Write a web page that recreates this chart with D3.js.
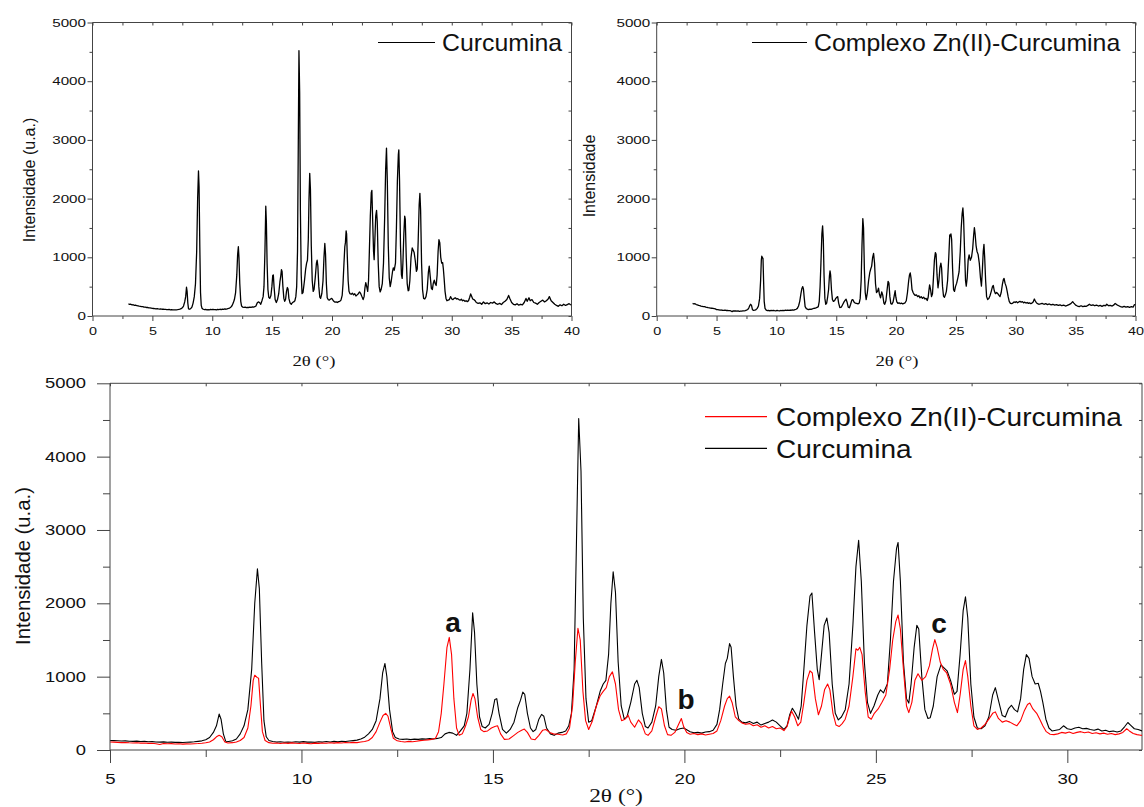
<!DOCTYPE html>
<html>
<head>
<meta charset="utf-8">
<script src="https://cdn.jsdelivr.net/npm/d3@7"></script>
<style>
body { margin: 0; background: #fff; }
svg { display: block; }
</style>
</head>
<body>
<div id="root"></div>
<script>
// 2theta / intensity pairs
const curcumina = [
[3.0,205],[3.1,198],[3.2,200],[3.3,190],[3.4,192],[3.5,182],[3.6,185],[3.7,175],[3.8,172],[3.9,168],
[4.0,165],[4.1,160],[4.2,158],[4.3,150],[4.4,152],[4.5,145],[4.6,146],[4.7,140],[4.8,138],[4.9,135],
[5.0,130],[5.1,128],[5.2,126],[5.3,122],[5.4,124],[5.5,120],[5.6,118],[5.7,121],[5.8,115],[5.9,117],
[6.0,112],[6.1,114],[6.2,110],[6.3,108],[6.4,111],[6.5,106],[6.6,108],[6.7,104],[6.8,106],[6.9,103],
[7.0,105],[7.1,108],[7.2,112],[7.3,118],[7.4,125],[7.5,140],[7.6,170],[7.7,240],[7.78,330],[7.85,490],
[7.9,420],[7.96,220],[8.02,120],[8.1,115],[8.2,125],[8.3,150],[8.4,220],[8.5,330],[8.6,550],[8.7,1100],
[8.78,2000],[8.85,2470],[8.9,2200],[8.96,1200],[9.02,400],[9.08,180],[9.15,130],[9.25,115],[9.35,108],[9.45,112],
[9.55,105],[9.65,110],[9.75,106],[9.85,112],[9.95,108],[10.05,114],[10.15,107],[10.25,110],[10.35,104],[10.45,112],
[10.55,108],[10.65,115],[10.75,110],[10.85,118],[10.95,112],[11.05,120],[11.15,115],[11.25,122],[11.35,128],[11.45,135],
[11.55,150],[11.65,175],[11.75,220],[11.85,280],[11.95,400],[12.05,700],[12.12,1050],[12.18,1180],[12.23,1000],[12.3,550],
[12.38,250],[12.45,170],[12.55,150],[12.65,145],[12.75,150],[12.85,142],[12.95,148],[13.05,145],[13.15,152],[13.25,148],
[13.35,155],[13.45,150],[13.55,158],[13.65,170],[13.75,220],[13.85,240],[13.95,230],[14.05,200],[14.15,260],[14.25,330],
[14.32,500],[14.4,1100],[14.47,1870],[14.52,1600],[14.58,900],[14.65,450],[14.72,320],[14.8,300],[14.9,350],[14.98,500],
[15.05,690],[15.1,700],[15.16,500],[15.25,280],[15.35,230],[15.45,280],[15.55,380],[15.65,580],[15.72,680],[15.78,790],
[15.83,760],[15.9,500],[15.98,300],[16.05,250],[16.12,280],[16.2,420],[16.27,485],[16.33,460],[16.4,300],[16.5,220],
[16.6,200],[16.7,230],[16.8,240],[16.9,260],[16.98,330],[17.05,500],[17.12,1100],[17.18,2800],[17.24,4520],[17.3,3800],
[17.36,1800],[17.43,700],[17.5,380],[17.58,400],[17.7,600],[17.8,800],[17.88,900],[17.95,950],[18.02,1300],[18.08,2000],
[18.14,2430],[18.2,2150],[18.27,1200],[18.35,600],[18.43,420],[18.5,450],[18.6,650],[18.7,900],[18.76,950],[18.82,850],
[18.9,500],[18.98,320],[19.05,300],[19.15,380],[19.25,600],[19.33,1000],[19.4,1235],[19.46,1050],[19.53,550],[19.6,310],
[19.68,280],[19.78,270],[19.88,290],[19.98,300],[20.05,280],[20.15,250],[20.25,235],[20.35,240],[20.45,230],[20.55,245],
[20.65,250],[20.75,270],[20.85,350],[20.92,550],[21.0,900],[21.07,1180],[21.12,1250],[21.18,1450],[21.22,1400],[21.28,1000],
[21.35,600],[21.42,420],[21.5,380],[21.6,370],[21.7,390],[21.8,360],[21.9,380],[22.0,340],[22.1,360],[22.2,380],
[22.3,410],[22.4,380],[22.5,330],[22.6,280],[22.68,330],[22.75,480],[22.82,570],[22.9,500],[22.98,420],[23.05,600],
[23.12,1100],[23.2,1700],[23.28,2100],[23.33,2140],[23.4,1600],[23.47,1100],[23.52,960],[23.58,1300],[23.65,1700],[23.72,1800],
[23.78,1600],[23.86,900],[23.94,500],[24.02,410],[24.1,450],[24.2,550],[24.3,900],[24.4,1700],[24.48,2500],[24.55,2860],
[24.62,2300],[24.7,1200],[24.78,650],[24.86,500],[24.95,600],[25.05,750],[25.12,820],[25.2,780],[25.3,900],[25.38,1500],
[25.46,2300],[25.54,2750],[25.58,2830],[25.64,2300],[25.72,1200],[25.8,700],[25.86,640],[25.92,900],[26.0,1400],[26.07,1700],
[26.12,1650],[26.2,1000],[26.28,550],[26.36,430],[26.42,440],[26.5,600],[26.6,1000],[26.7,1160],[26.78,1120],[26.86,1080],
[26.95,950],[27.05,760],[27.12,800],[27.2,1300],[27.28,1900],[27.34,2090],[27.4,1800],[27.48,900],[27.56,450],[27.65,300],
[27.75,290],[27.85,330],[27.95,450],[28.05,750],[28.12,850],[28.2,680],[28.3,470],[28.38,450],[28.46,560],[28.54,610],
[28.62,550],[28.7,520],[28.78,700],[28.86,1100],[28.93,1300],[29.0,1250],[29.08,1000],[29.16,900],[29.24,910],[29.3,800],
[29.36,650],[29.44,420],[29.52,300],[29.6,260],[29.7,270],[29.8,280],[29.9,330],[30.0,290],[30.1,280],[30.2,300],
[30.3,310],[30.4,290],[30.5,295],[30.6,280],[30.7,270],[30.8,285],[30.9,260],[31.0,270],[31.1,250],[31.2,260],
[31.3,245],[31.4,260],[31.5,320],[31.58,375],[31.65,340],[31.75,290],[31.85,280],[31.95,260],[32.05,230],[32.2,215],
[32.35,225],[32.5,200],[32.65,240],[32.8,210],[32.95,225],[33.1,205],[33.25,230],[33.4,220],[33.55,240],[33.7,210],
[33.85,200],[34.0,215],[34.15,195],[34.3,230],[34.45,250],[34.6,280],[34.75,350],[34.85,300],[35.0,230],[35.15,200],
[35.3,190],[35.45,210],[35.6,185],[35.75,200],[35.9,190],[36.05,230],[36.2,300],[36.3,250],[36.45,310],[36.55,260],
[36.7,280],[36.85,230],[37.0,220],[37.15,200],[37.3,230],[37.45,250],[37.6,270],[37.75,240],[37.9,260],[38.05,290],
[38.15,330],[38.3,260],[38.45,230],[38.6,200],[38.75,180],[38.9,165],[39.05,190],[39.2,175],[39.35,200],[39.5,180],
[39.65,195],[39.8,210],[39.9,195],[40.0,190]
];

const complexo = [
[3.0,215],[3.1,205],[3.2,210],[3.3,195],[3.4,190],[3.5,180],[3.6,178],[3.7,170],[3.8,165],[3.9,160],
[4.0,158],[4.1,150],[4.2,148],[4.3,142],[4.4,140],[4.5,135],[4.6,132],[4.7,128],[4.8,124],[4.9,120],
[5.0,110],[5.1,108],[5.2,104],[5.3,100],[5.4,102],[5.5,98],[5.6,96],[5.7,99],[5.8,94],[5.9,95],
[6.0,90],[6.1,92],[6.2,86],[6.3,75],[6.4,88],[6.5,85],[6.6,87],[6.7,82],[6.8,86],[6.9,80],
[7.0,84],[7.1,82],[7.2,86],[7.3,88],[7.4,92],[7.5,98],[7.6,110],[7.7,140],[7.78,180],[7.85,200],
[7.92,180],[8.0,110],[8.08,95],[8.2,100],[8.3,110],[8.4,130],[8.5,170],[8.6,300],[8.68,600],[8.74,950],
[8.78,1020],[8.84,990],[8.88,980],[8.93,600],[8.98,250],[9.05,130],[9.15,100],[9.25,92],[9.35,96],[9.45,88],
[9.55,95],[9.65,90],[9.75,97],[9.85,92],[9.95,88],[10.05,95],[10.15,90],[10.25,86],[10.35,94],[10.45,90],
[10.55,96],[10.65,92],[10.75,98],[10.85,94],[10.95,100],[11.05,96],[11.15,102],[11.25,98],[11.35,104],[11.45,100],
[11.55,108],[11.65,115],[11.75,130],[11.85,170],[11.95,250],[12.05,380],[12.13,470],[12.2,500],[12.26,460],[12.33,300],
[12.4,160],[12.5,125],[12.6,115],[12.7,110],[12.8,118],[12.9,112],[13.0,120],[13.1,128],[13.2,132],[13.3,138],
[13.4,145],[13.5,160],[13.58,250],[13.65,500],[13.72,900],[13.8,1400],[13.86,1535],[13.92,1300],[13.98,700],[14.05,300],
[14.12,200],[14.2,220],[14.28,320],[14.36,450],[14.43,680],[14.48,770],[14.53,700],[14.6,450],[14.68,280],[14.76,250],
[14.86,260],[14.96,300],[15.05,320],[15.12,330],[15.2,220],[15.3,145],[15.42,150],[15.55,200],[15.65,240],[15.75,270],
[15.82,285],[15.9,240],[16.0,150],[16.1,140],[16.2,200],[16.3,270],[16.38,280],[16.48,240],[16.58,220],[16.7,215],
[16.82,205],[16.92,220],[17.0,300],[17.08,600],[17.15,1200],[17.22,1660],[17.28,1500],[17.35,800],[17.42,400],[17.5,280],
[17.6,400],[17.7,600],[17.8,740],[17.88,800],[17.96,850],[18.04,1000],[18.12,1065],[18.2,900],[18.28,550],[18.36,400],
[18.45,420],[18.53,475],[18.6,380],[18.7,310],[18.8,410],[18.88,360],[18.98,220],[19.05,200],[19.15,260],[19.25,450],
[19.33,590],[19.4,560],[19.48,330],[19.56,210],[19.65,200],[19.75,240],[19.85,350],[19.92,430],[19.98,320],[20.06,240],
[20.15,215],[20.25,225],[20.35,210],[20.45,220],[20.55,205],[20.65,215],[20.75,225],[20.85,260],[20.95,400],[21.05,600],
[21.12,700],[21.18,735],[21.25,640],[21.33,450],[21.42,400],[21.5,370],[21.6,350],[21.7,360],[21.8,330],[21.9,345],
[22.0,310],[22.1,330],[22.2,300],[22.3,320],[22.4,290],[22.5,300],[22.6,265],[22.68,320],[22.75,450],[22.8,530],
[22.88,450],[22.96,330],[23.04,380],[23.12,650],[23.2,950],[23.28,1080],[23.34,1050],[23.42,700],[23.5,480],[23.58,600],
[23.66,820],[23.74,900],[23.8,820],[23.88,500],[23.96,340],[24.04,320],[24.12,360],[24.2,420],[24.3,600],[24.4,1000],
[24.48,1380],[24.53,1360],[24.58,1400],[24.64,1300],[24.72,800],[24.8,450],[24.88,420],[24.96,500],[25.06,560],[25.16,650],
[25.26,750],[25.36,1100],[25.44,1500],[25.52,1750],[25.58,1840],[25.64,1650],[25.72,1100],[25.8,600],[25.86,510],[25.94,650],
[26.02,950],[26.1,1040],[26.2,950],[26.3,1000],[26.4,1150],[26.48,1380],[26.54,1505],[26.6,1400],[26.68,1200],[26.76,1100],
[26.85,1050],[26.95,900],[27.05,650],[27.13,510],[27.2,750],[27.28,1100],[27.34,1220],[27.4,1000],[27.48,600],[27.56,330],
[27.65,280],[27.75,300],[27.85,350],[27.95,420],[28.05,500],[28.12,520],[28.2,430],[28.3,380],[28.4,400],[28.5,380],
[28.6,350],[28.68,330],[28.78,400],[28.88,540],[28.96,620],[29.02,640],[29.1,560],[29.2,500],[29.28,420],[29.36,330],
[29.45,250],[29.55,215],[29.65,210],[29.75,220],[29.85,240],[29.95,230],[30.05,245],[30.15,225],[30.25,240],[30.35,250],
[30.45,235],[30.55,245],[30.65,225],[30.75,235],[30.85,220],[30.95,230],[31.05,215],[31.15,225],[31.25,210],[31.35,220],
[31.45,240],[31.55,290],[31.62,260],[31.72,225],[31.82,210],[31.92,200],[32.05,205],[32.2,215],[32.35,200],[32.5,210],
[32.65,195],[32.8,205],[32.95,190],[33.1,200],[33.25,185],[33.4,195],[33.55,180],[33.7,190],[33.85,175],[34.0,185],
[34.15,170],[34.3,180],[34.45,195],[34.6,210],[34.75,245],[34.85,220],[35.0,185],[35.15,170],[35.3,160],[35.45,175],
[35.6,160],[35.75,170],[35.9,165],[36.05,185],[36.15,200],[36.3,180],[36.45,190],[36.6,175],[36.75,185],[36.9,170],
[37.05,180],[37.2,165],[37.35,180],[37.5,175],[37.6,200],[37.75,175],[37.9,180],[38.05,170],[38.2,190],[38.3,215],
[38.45,190],[38.6,175],[38.75,160],[38.9,150],[39.05,165],[39.2,150],[39.35,160],[39.5,148],[39.65,158],[39.8,150],
[39.9,190],[40.0,200]
];

const yTicks = [0, 1000, 2000, 3000, 4000, 5000];
const yMinor = [500, 1500, 2500, 3500, 4500];
const xTicksTop = [0, 5, 10, 15, 20, 25, 30, 35, 40];
const xMinorTop = [2.5, 7.5, 12.5, 17.5, 22.5, 27.5, 32.5, 37.5];
const xTicksBottom = [5, 10, 15, 20, 25, 30];
const xMinorBottom = [7.5, 12.5, 17.5, 22.5, 27.5];

const width = 1144;
const height = 807;
const sans = "'Liberation Sans', Arial, sans-serif";
const serif = "'Liberation Serif', 'Times New Roman', serif";
const axisColor = "#444";

const svg = d3.select("#root")
  .append("svg")
  .attr("width", width)
  .attr("height", height)
  .style("background", "#fff");

// text that is a bit wider than the font normally is
function wideText(g, x, y, txt, size, sx, anchor, opts) {
  opts = opts || {};
  return g.append("text")
    .attr("transform", "translate(" + x + "," + y + ") scale(" + sx + ",1)")
    .attr("text-anchor", anchor || "start")
    .attr("font-family", opts.family || sans)
    .attr("font-size", size)
    .attr("font-weight", opts.weight || "normal")
    .attr("fill", "#111")
    .text(txt);
}

function styleAxis(g) {
  g.selectAll("path, line").attr("stroke", axisColor).attr("stroke-width", 1);
}

// draws one framed panel; returns scales
function drawPanel(cfg) {
  const x = d3.scaleLinear().domain(cfg.xDomain).range([cfg.left, cfg.right]);
  const y = d3.scaleLinear().domain([0, 5000]).range([cfg.bottom, cfg.top]);
  const g = svg.append("g");

  // frame top/right with small inward ticks
  const top = g.append("g").attr("transform", "translate(0," + cfg.top + ")")
    .call(d3.axisTop(x).tickValues(cfg.xMajor.concat(cfg.xMinor)).tickSize(-cfg.innerTick).tickFormat(""));
  top.select(".domain").attr("d", "M" + cfg.left + ",0H" + cfg.right);
  styleAxis(top);
  const right = g.append("g").attr("transform", "translate(" + cfg.right + ",0)")
    .call(d3.axisRight(y).tickValues(yTicks.concat(yMinor)).tickSize(-cfg.innerTick).tickFormat(""));
  right.select(".domain").attr("d", "M0," + cfg.top + "V" + cfg.bottom);
  styleAxis(right);

  // clip for traces
  const clipId = "clip" + cfg.id;
  svg.append("clipPath").attr("id", clipId).append("rect")
    .attr("x", cfg.left).attr("y", cfg.top - 2)
    .attr("width", cfg.right - cfg.left).attr("height", cfg.bottom - cfg.top + 2);

  const line = d3.line().x(d => x(d[0])).y(d => y(d[1]));
  cfg.series.forEach(s => {
    g.append("path")
      .datum(s.data)
      .attr("clip-path", "url(#" + clipId + ")")
      .attr("fill", "none")
      .attr("stroke", s.color)
      .attr("stroke-width", s.width)
      .attr("stroke-linejoin", "round")
      .attr("d", line);
  });

  // left axis
  const yAx = g.append("g").attr("transform", "translate(" + cfg.left + ",0)")
    .call(d3.axisLeft(y).tickValues(yTicks).tickSize(cfg.majorTick).tickSizeOuter(0).tickFormat(d3.format("d")));
  yAx.select(".domain").attr("d", "M0," + cfg.top + "V" + cfg.bottom);
  yAx.selectAll("text")
    .attr("font-family", sans).attr("font-size", cfg.tickFont).attr("fill", "#111")
    .attr("x", -cfg.yLabelGap / cfg.tickSx)
    .attr("transform", "scale(" + cfg.tickSx + ",1)");
  const yMin = g.append("g").attr("transform", "translate(" + cfg.left + ",0)")
    .call(d3.axisLeft(y).tickValues(yMinor).tickSize(cfg.minorTick).tickFormat(""));
  yMin.select(".domain").remove();
  styleAxis(yAx); styleAxis(yMin);

  // bottom axis
  const xAx = g.append("g").attr("transform", "translate(0," + cfg.bottom + ")")
    .call(d3.axisBottom(x).tickValues(cfg.xMajor).tickSize(cfg.majorTick).tickSizeOuter(0).tickFormat(d3.format("d")));
  xAx.select(".domain").attr("d", "M" + cfg.left + ",0H" + cfg.right);
  xAx.selectAll("text")
    .attr("font-family", sans).attr("font-size", cfg.xTickFont).attr("fill", "#111")
    .attr("y", cfg.xLabelGap)
    .attr("x", 0)
    .attr("transform", "scale(" + cfg.xTickSx + ",1)");
  const xMin = g.append("g").attr("transform", "translate(0," + cfg.bottom + ")")
    .call(d3.axisBottom(x).tickValues(cfg.xMinor).tickSize(cfg.minorTick).tickFormat(""));
  xMin.select(".domain").remove();
  styleAxis(xAx); styleAxis(xMin);

  return { g: g, x: x, y: y };
}

// top left: curcumina
const p1 = drawPanel({
  id: 1, left: 92.5, right: 571.5, top: 22.5, bottom: 316,
  xDomain: [0, 40], xMajor: xTicksTop, xMinor: xMinorTop,
  majorTick: 5, minorTick: 3, innerTick: 3,
  tickFont: 11.5, tickSx: 1.32, yLabelGap: 6.5,
  xTickFont: 11.5, xTickSx: 1.25, xLabelGap: 10.5,
  series: [{ data: curcumina, color: "#000", width: 1.3 }]
});
wideText(p1.g, 0, 0, "Intensidade (u.a.)", 16, 1, "middle")
  .attr("transform", "translate(35,180) rotate(-90)");
wideText(p1.g, 314, 366, "2θ (°)", 15, 1.25, "middle", { family: serif });
p1.g.append("line").attr("x1", 378).attr("x2", 435).attr("y1", 42.5).attr("y2", 42.5)
  .attr("stroke", "#000").attr("stroke-width", 1.1);
wideText(p1.g, 442, 51, "Curcumina", 23, 1.08, "start");

// top right: complex
const p2 = drawPanel({
  id: 2, left: 656.7, right: 1135.5, top: 22.5, bottom: 316,
  xDomain: [0, 40], xMajor: xTicksTop, xMinor: xMinorTop,
  majorTick: 5, minorTick: 3, innerTick: 3,
  tickFont: 11.5, tickSx: 1.32, yLabelGap: 6.5,
  xTickFont: 11.5, xTickSx: 1.25, xLabelGap: 10.5,
  series: [{ data: complexo, color: "#000", width: 1.3 }]
});
wideText(p2.g, 0, 0, "Intensidade", 16, 1, "middle")
  .attr("transform", "translate(595,176) rotate(-90)");
wideText(p2.g, 897, 366, "2θ (°)", 15, 1.25, "middle", { family: serif });
p2.g.append("line").attr("x1", 752).attr("x2", 807).attr("y1", 42.5).attr("y2", 42.5)
  .attr("stroke", "#000").attr("stroke-width", 1.1);
wideText(p2.g, 814, 51, "Complexo Zn(II)-Curcumina", 23, 1.08, "start");

// bottom: overlay
const p3 = drawPanel({
  id: 3, left: 110, right: 1142, top: 383.3, bottom: 750,
  xDomain: [5, 31.95], xMajor: xTicksBottom, xMinor: xMinorBottom,
  majorTick: 13, minorTick: 7, innerTick: 3,
  tickFont: 14.5, tickSx: 1.27, yLabelGap: 24,
  xTickFont: 15.5, xTickSx: 1.2, xLabelGap: 23,
  series: [
    { data: curcumina.filter(d => d[0] >= 5), color: "#000", width: 1.1 },
    { data: complexo.filter(d => d[0] >= 5), color: "#ff0000", width: 1.1 }
  ]
});
wideText(p3.g, 0, 0, "Intensidade (u.a.)", 20.3, 1, "middle")
  .attr("transform", "translate(30,566) rotate(-90)");
wideText(p3.g, 616, 802, "2θ (°)", 18, 1.3, "middle", { family: serif });

p3.g.append("line").attr("x1", 705).attr("x2", 767).attr("y1", 416.7).attr("y2", 416.7)
  .attr("stroke", "#ff0000").attr("stroke-width", 1.2);
wideText(p3.g, 776, 426, "Complexo Zn(II)-Curcumina", 25.5, 1.1, "start");
p3.g.append("line").attr("x1", 705).attr("x2", 767).attr("y1", 448.3).attr("y2", 448.3)
  .attr("stroke", "#000").attr("stroke-width", 1.2);
wideText(p3.g, 776, 458, "Curcumina", 25.5, 1.1, "start");

// peak markers
wideText(p3.g, 453, 632, "a", 28, 1, "middle", { weight: "bold" });
wideText(p3.g, 686, 709, "b", 28, 1, "middle", { weight: "bold" });
wideText(p3.g, 939, 633, "c", 28, 1, "middle", { weight: "bold" });
</script>
</body>
</html>
